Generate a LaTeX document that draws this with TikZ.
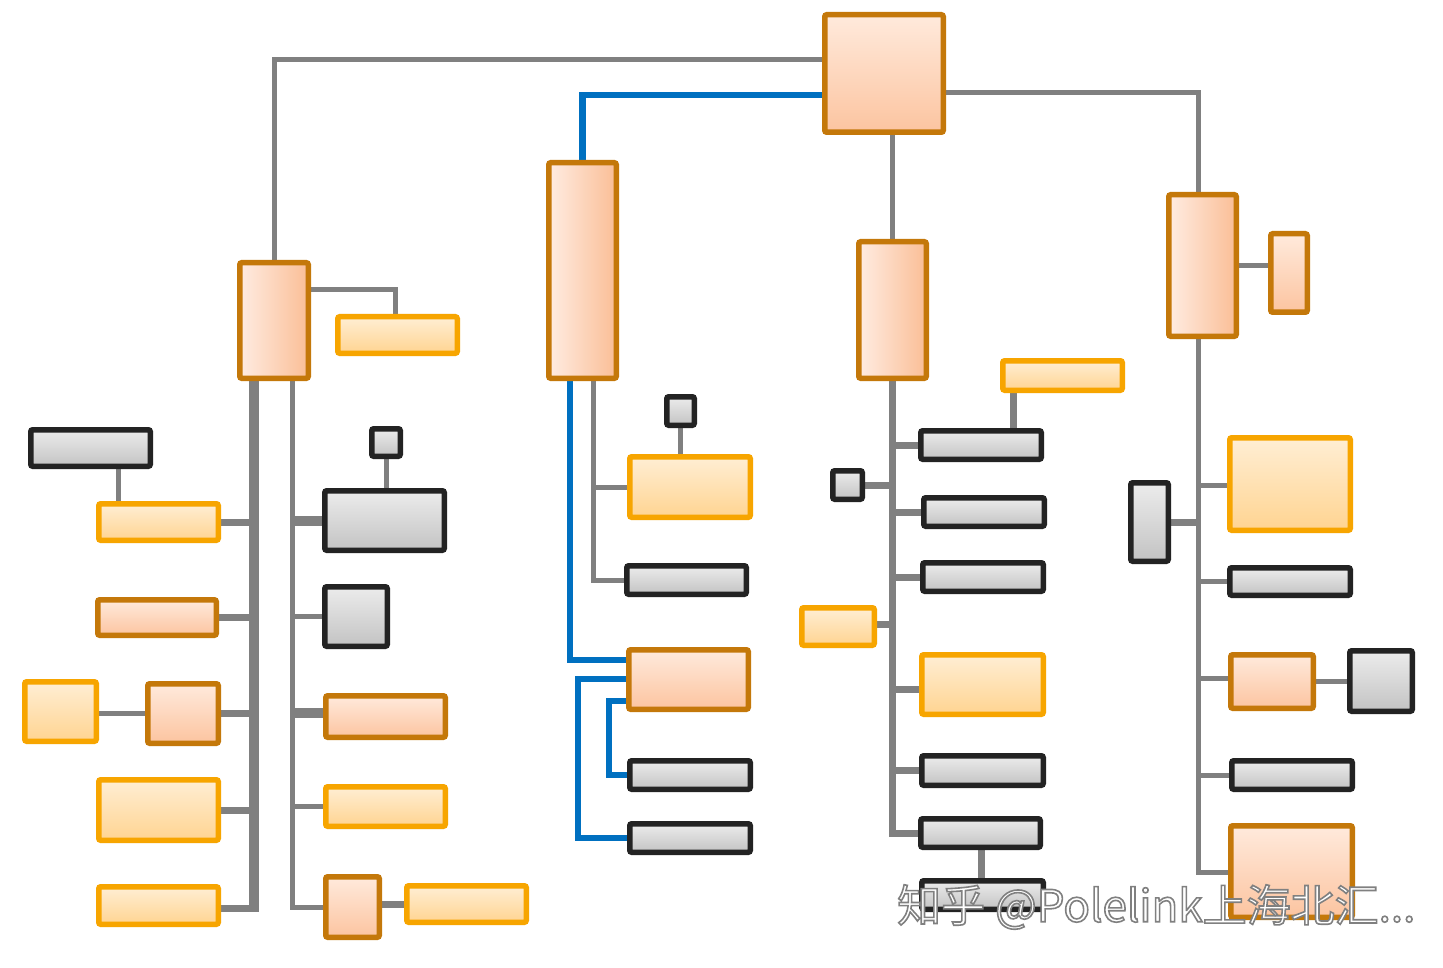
\documentclass[tikz,border=0pt]{standalone}
\usepackage{fontspec}
\newfontfamily\cjk{Noto Sans CJK SC}
\usetikzlibrary{backgrounds}
\definecolor{odB}{RGB}{196,120,10}
\definecolor{odL}{RGB}{255,236,226}
\definecolor{odR}{RGB}{250,190,150}
\definecolor{odT}{RGB}{255,234,220}
\definecolor{odBt}{RGB}{252,196,160}
\definecolor{olB}{RGB}{247,165,0}
\definecolor{olT}{RGB}{255,238,212}
\definecolor{olBt}{RGB}{255,212,145}
\definecolor{gB}{RGB}{35,35,35}
\definecolor{gT}{RGB}{236,236,236}
\definecolor{gBt}{RGB}{195,195,195}
\definecolor{lnC}{RGB}{128,128,128}
\definecolor{blC}{RGB}{0,112,192}
\newcommand\bx[6]{\node[#2, minimum width={#5-#3-5.5}, minimum height={#6-#4-5.5}] (#1) at ({(#3+#5)/2},{(#4+#6)/2}) {};}
\newcommand\outlinetext[1]{\special{pdf:literal direct 2 Tr 1.6 w 0.5 G}#1\special{pdf:literal direct 0 Tr}}
\begin{document}
\begin{tikzpicture}[x=1pt,y=-1pt,
  box/.style={draw, line width=5.5pt, rounded corners=2pt, inner sep=0pt, outer sep=0pt},
  odH/.style={box, draw=odB, left color=odL, right color=odR},
  odV/.style={box, draw=odB, top color=odT, bottom color=odBt},
  ol/.style={box, draw=olB, top color=olT, bottom color=olBt},
  gb/.style={box, draw=gB, top color=gT, bottom color=gBt},
  ln/.style={draw=lnC, line width=5pt},
  lnm/.style={draw=lnC, line width=7pt},
  lnk/.style={draw=lnC, line width=10pt},
  bl/.style={draw=blC, line width=6.5pt}]
\useasboundingbox (0,0) rectangle (1443,968);
% level 0/1
\bx{T}{odV}{822}{12}{946}{135}
\bx{L1}{odH}{237}{260}{311}{381}
\bx{M1}{odH}{546}{160}{619}{381}
\bx{M2}{odH}{856}{239}{929}{381}
\bx{R1}{odH}{1166}{192}{1239}{339}
\bx{R1b}{odV}{1268}{231}{1310}{315}
% L1 subtree
\bx{L1a}{ol}{335}{314}{460}{356}
\bx{Ll0}{gb}{28}{427}{153}{469}
\bx{Ll1}{ol}{96}{501}{221}{543}
\bx{Ll2}{odV}{95}{597}{219}{638}
\bx{Ll3}{odV}{145}{681}{221}{746}
\bx{Ll3b}{ol}{22}{679}{99}{744}
\bx{Ll4}{ol}{96}{777}{221}{843}
\bx{Ll5}{ol}{96}{884}{221}{927}
\bx{Lr0}{gb}{369}{426}{403}{459}
\bx{Lr1}{gb}{322}{488}{447}{553}
\bx{Lr2}{gb}{322}{584}{390}{649}
\bx{Lr3}{odV}{323}{693}{448}{740}
\bx{Lr4}{ol}{323}{784}{448}{829}
\bx{Lr5}{odV}{323}{874}{382}{940}
\bx{Lr6}{ol}{404}{883}{529}{925}
% M1 subtree
\bx{Mg0}{gb}{664}{394}{697}{428}
\bx{Mo1}{ol}{627}{454}{753}{520}
\bx{Mg1}{gb}{624}{563}{749}{597}
\bx{M1c}{odV}{626}{647}{751}{712}
\bx{Mg2}{gb}{627}{758}{753}{792}
\bx{Mg3}{gb}{627}{821}{753}{855}
% M2 subtree
\bx{Oa1}{ol}{1000}{358}{1125}{393}
\bx{Ga1}{gb}{918}{428}{1044}{462}
\bx{Gs}{gb}{830}{468}{865}{502}
\bx{Ga2}{gb}{921}{495}{1047}{529}
\bx{Ga3}{gb}{920}{560}{1046}{594}
\bx{Oa2}{ol}{799}{605}{877}{648}
\bx{Oa3}{ol}{919}{652}{1046}{717}
\bx{Ga4}{gb}{919}{753}{1046}{788}
\bx{Ga5}{gb}{918}{816}{1043}{850}
\bx{Ga6}{gb}{919}{878}{1046}{912}
% R1 subtree
\bx{Rg0}{gb}{1128}{480}{1171}{564}
\bx{Ro1}{ol}{1227}{435}{1353}{533}
\bx{Rg1}{gb}{1227}{565}{1353}{598}
\bx{Ro2}{odV}{1228}{652}{1316}{711}
\bx{Rg2}{gb}{1347}{648}{1415}{714}
\bx{Rg3}{gb}{1229}{758}{1355}{792}
\bx{Ro3}{odV}{1228}{823}{1355}{920}
% coordinates of trunk ends
\coordinate (Lt) at (254,908);
\coordinate (Lu) at (292,907);
\coordinate (Mt) at (593,580);
\coordinate (Mb) at (892,833);
\coordinate (Rb) at (1198,872);
\begin{pgfonlayer}{background}
\fill[white] (0,0) rectangle (1443,968);
% top level
\draw[ln] (T.west |- 0,60) -| (L1.north);
\draw[bl] (T.west |- 0,95) -| (M1.north);
\draw[ln] (M2.north |- T.south) -- (M2.north);
\draw[ln] (T.east |- 0,93) -| (R1.north -| Rb);
\draw[ln] (R1.east |- 0,266) -- (R1b.west |- 0,266);
% L1
\draw[ln] (L1.east |- 0,290) -| (L1a.north -| 395,0);
\draw[lnk] (L1.south -| Lt) -- (Lt);
\draw[lnm] (Ll1.east) -- (Ll1.east -| Lt);
\draw[ln] (Ll0.south -| 118,0) -- (Ll1.north -| 118,0);
\draw[lnm] (Ll2.east) -- (Ll2.east -| Lt);
\draw[lnm] (Ll3.east) -- (Ll3.east -| Lt);
\draw[ln] (Ll3b.east |- Ll3.west) -- (Ll3.west);
\draw[lnm] (Ll4.east) -- (Ll4.east -| Lt);
\draw[lnm] (Ll5.east |- Lt) -- ([xshift=5pt]Lt);
\draw[ln] (L1.south -| Lu) |- (Lr5.west);
\draw[lnk] (Lr1.west) -- (Lr1.west -| Lu);
\draw[ln] (Lr0.south) -- (Lr1.north -| Lr0.south);
\draw[ln] (Lr2.west) -- (Lr2.west -| Lu);
\draw[lnk] (Lr3.west |- 0,713) -- (Lu |- 0,713);
\draw[ln] (Lr4.west) -- (Lr4.west -| Lu);
\draw[lnm] (Lr5.east |- Lr6.west) -- (Lr6.west);
% M1
\draw[bl] (M1.south -| 570,0) |- (M1c.west |- 0,660);
\draw[bl] (M1c.west |- 0,679) -| (Mg3.west -| 578,0) -- (Mg3.west);
\draw[bl] (M1c.west |- 0,701) -| (Mg2.west -| 609,0) -- (Mg2.west);
\draw[ln] (M1.south -| Mt) |- (Mg1.west);
\draw[ln] (Mo1.west) -- (Mo1.west -| Mt);
\draw[ln] (Mg0.south) -- (Mo1.north -| Mg0.south);
% M2
\draw[lnm] (M2.south -| Mb) |- (Ga5.west);
\draw[lnm] (Ga1.west) -- (Ga1.west -| Mb);
\draw[lnm] (Oa1.south -| 1013,0) -- (Ga1.north -| 1013,0);
\draw[lnm] (Gs.east) -- (Gs.east -| Mb);
\draw[lnm] (Ga2.west) -- (Ga2.west -| Mb);
\draw[lnm] (Ga3.west) -- (Ga3.west -| Mb);
\draw[lnm] (Oa2.east |- 0,624) -- (Mb |- 0,624);
\draw[lnm] (Oa3.west |- 0,689) -- (Mb |- 0,689);
\draw[lnm] (Ga4.west) -- (Ga4.west -| Mb);
\draw[lnm] (Ga5.south -| 981,0) -- (Ga6.north -| 981,0);
% R1
\draw[ln] (R1.south -| Rb) |- (Ro3.west |- Rb);
\draw[lnm] (Rg0.east) -- (Rg0.east -| Rb);
\draw[ln] (Ro1.west |- 0,485) -- (Rb |- 0,485);
\draw[ln] (Rg1.west) -- (Rg1.west -| Rb);
\draw[ln] (Ro2.west |- 0,678) -- (Rb |- 0,678);
\draw[ln] (Ro2.east |- 0,681) -- (Rg2.west |- 0,681);
\draw[ln] (Rg3.west) -- (Rg3.west -| Rb);
\end{pgfonlayer}
% watermark
\node[anchor=west, inner sep=0pt, text=white, font=\cjk\fontsize{44}{44}\selectfont] (wm) at (897,907) {\outlinetext{知乎 @Polelink上海北汇...}};
\end{tikzpicture}
\end{document}
